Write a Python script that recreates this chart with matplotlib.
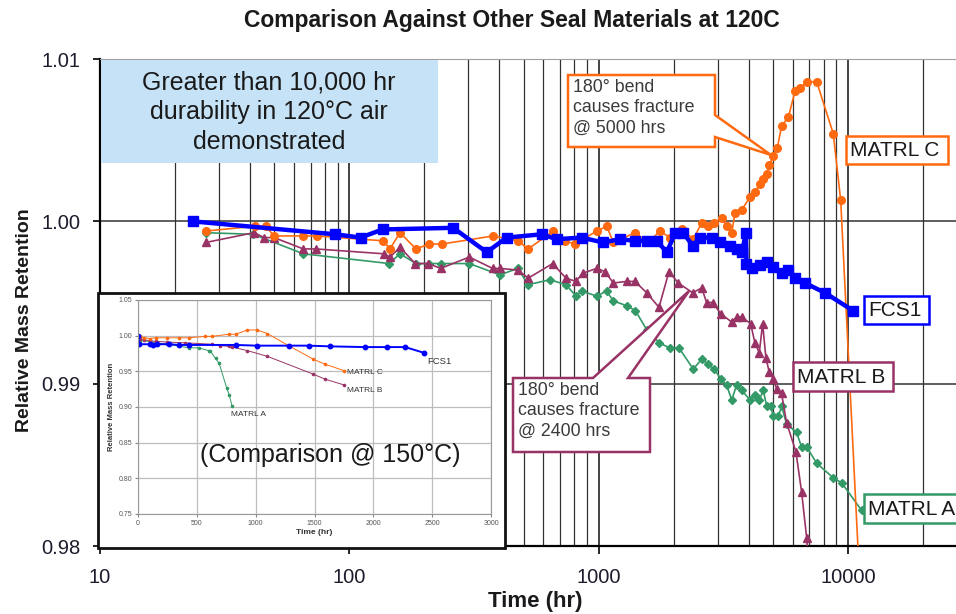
import matplotlib
matplotlib.use("Agg")
import matplotlib.pyplot as plt
from matplotlib.patches import Rectangle, Polygon
from matplotlib.ticker import NullFormatter, LogLocator
import numpy as np

plt.rcParams['font.family'] = ['Liberation Sans', 'DejaVu Sans']

# ---- main chart data (120C, log time) ----
fcs1_t = [23.5, 88, 111, 136, 261, 356, 428, 591, 679, 855, 1040, 1220, 1400, 1560,
          1710, 1880, 2030, 2180, 2390, 2550, 2850, 3070, 3360, 3590, 3760, 3900,
          3920, 4120, 4440, 4730, 5010, 5440, 5750, 6130, 6730, 8090, 10480]
fcs1_m = [1.0000, 0.9992, 0.9990, 0.9995, 0.9996, 0.9981, 0.9990, 0.9992, 0.9989,
          0.9990, 0.9987, 0.9989, 0.9988, 0.9988, 0.9988, 0.9981, 0.9993, 0.9993,
          0.9985, 0.9990, 0.9990, 0.9987, 0.9985, 0.9983, 0.9981, 0.9993, 0.9974,
          0.9971, 0.9973, 0.9975, 0.9972, 0.9968, 0.9970, 0.9965, 0.9962, 0.9956,
          0.9945]

matc_t = [26.6, 41.8, 46.2, 49.9, 65.4, 74.0, 136.9, 145.6, 159.7, 185.2, 209.4,
          234.8, 378, 474, 522, 658, 733, 804, 983, 1078, 1146, 1400, 1583, 1763,
          1934, 2155, 2398, 2592, 2754, 2904, 3117, 3265, 3420, 3525, 3750, 4049,
          4241, 4441, 4578, 4724, 4839, 5021, 5210, 5427, 5768, 6135, 6427, 6835,
          7496, 8740, 9358, 11820]
matc_m = [0.9994, 0.9997, 0.9997, 0.9991, 0.9991, 0.9991, 0.9988, 0.9983, 0.9993,
          0.9983, 0.9986, 0.9986, 0.9991, 0.9988, 0.9983, 0.9994, 0.9988, 0.9986,
          0.9994, 0.9997, 0.9987, 0.9993, 0.9987, 0.9994, 0.9990, 0.9995, 0.9989,
          0.9999, 0.9997, 0.9999, 1.0002, 0.9997, 0.9993, 1.0005, 1.0007, 1.0015,
          1.0018, 1.0023, 1.0026, 1.0029, 1.0035, 1.0040, 1.0045, 1.0059, 1.0064,
          1.0080, 1.0082, 1.0086, 1.0086, 1.0054, 1.0013, 0.9700]

matb_t = [26.6, 41.5, 45.5, 49.9, 65.4, 73.3, 137.8, 145.6, 159.7, 183.9, 207.5,
          232.6, 302.9, 375.9, 402, 474, 522, 654.6, 740, 811, 863, 983, 1061, 1146,
          1297, 1400, 1559, 1747, 1916, 2088, 2385, 2592, 2712, 2867, 3095, 3417,
          3578, 3747, 4072, 4240, 4412, 4550, 4690, 4839, 5021, 5176, 5420, 5677,
          6191, 6526, 6835, 6980]
matb_m = [0.9987, 0.9993, 0.9990, 0.9990, 0.9983, 0.9983, 0.9980, 0.9978, 0.9984,
          0.9974, 0.9974, 0.9971, 0.9978, 0.9971, 0.9971, 0.9970, 0.9965, 0.9974,
          0.9965, 0.9963, 0.9968, 0.9971, 0.9969, 0.9962, 0.9963, 0.9963, 0.9956,
          0.9947, 0.9969, 0.9962, 0.9956, 0.9959, 0.9950, 0.9950, 0.9943, 0.9938,
          0.9941, 0.9941, 0.9937, 0.9925, 0.9919, 0.9937, 0.9916, 0.9907, 0.9903,
          0.9897, 0.9894, 0.9876, 0.9858, 0.9833, 0.9805, 0.9785]

mata_t = [26.6, 41.2, 65.4, 144.7, 159.7, 185.2, 209.4, 232.6, 302.9, 402, 474, 522,
          638, 740, 811, 855, 983, 1076, 1146, 1297, 1405, 1563, 1755, 1934, 2102,
          2398, 2592, 2754, 2904, 3095, 3265, 3420, 3578, 3747, 4049, 4241, 4412,
          4578, 4724, 4900, 5021, 5258, 5427, 5677, 6226, 6521, 6835, 7496, 8740,
          9435, 11350]
mata_m = [0.9993, 0.9992, 0.9980, 0.9974, 0.9980, 0.9974, 0.9974, 0.9974, 0.9974,
          0.9967, 0.9971, 0.9961, 0.9964, 0.9961, 0.9954, 0.9957, 0.9954, 0.9957,
          0.9951, 0.9948, 0.9945, 0.9933, 0.9925, 0.9922, 0.9922, 0.9909, 0.9915,
          0.9912, 0.9909, 0.9903, 0.9899, 0.9890, 0.9899, 0.9896, 0.9890, 0.9893,
          0.9890, 0.9896, 0.9886, 0.9886, 0.9880, 0.9880, 0.9886, 0.9875, 0.9870,
          0.9861, 0.9861, 0.9851, 0.9842, 0.9839, 0.9822]

x_ticks = [10, 100, 1000, 10000]
x_labels = ['10', '100', '1000', '10000']
y_ticks = [0.98, 0.99, 1.00, 1.01]
y_labels = ['0.98', '0.99', '1.00', '1.01']

# ---- inset data (150C, linear time) ----
fcs1_150_t = [0, 10, 100, 130, 160, 260, 350, 430, 830, 1010, 1280, 1450, 1630, 1930,
              2115, 2270, 2430]
fcs1_150_m = [1.000, 0.988, 0.988, 0.987, 0.988, 0.988, 0.987, 0.987, 0.987, 0.986,
              0.986, 0.986, 0.985, 0.984, 0.984, 0.984, 0.976]
matc_150_t = [20, 50, 100, 150, 250, 350, 430, 570, 630, 770, 830, 930, 1010, 1100,
              1280, 1490, 1590, 1750]
matc_150_m = [0.999, 0.997, 0.996, 0.997, 0.997, 0.997, 0.997, 0.999, 0.999, 1.002,
              1.002, 1.008, 1.008, 1.003, 0.986, 0.967, 0.960, 0.951]
matb_150_t = [20, 50, 100, 150, 250, 400, 630, 700, 770, 800, 930, 1100, 1490, 1590,
              1750]
matb_150_m = [0.996, 0.994, 0.993, 0.992, 0.991, 0.990, 0.988, 0.986, 0.985, 0.984,
              0.979, 0.971, 0.946, 0.939, 0.931]
mata_150_t = [20, 100, 150, 250, 430, 515, 600, 615, 660, 690, 755, 775, 800]
mata_150_m = [0.993, 0.992, 0.990, 0.988, 0.983, 0.983, 0.979, 0.978, 0.968, 0.961,
              0.926, 0.917, 0.901]

W, H = 956, 614
def fx(px):
    return px / W
def fy(py):
    return 1 - py / H

c_fcs = '#0000ff'
c_c = '#ff6a10'
c_b = '#993366'
c_a = '#339966'
txt = '#1a1a1a'

fig = plt.figure(figsize=(W / 100, H / 100), dpi=100)
ax = fig.add_axes([fx(100), fy(546), 856 / W, 487 / H])

ax.set_xscale('log')
ax.set_xlim(10, 27150)
ax.set_ylim(0.98, 1.01)

# gridlines
ax.xaxis.set_minor_locator(LogLocator(base=10, subs=range(2, 10)))
ax.xaxis.set_minor_formatter(NullFormatter())
ax.grid(which='major', axis='x', color='#111111', lw=1.1)
ax.grid(which='minor', axis='x', color='#333333', lw=0.9)
ax.hlines(y_ticks[1:-1], 10, 27150, color='#333333', lw=1.1, zorder=0.5)
ax.set_axisbelow(True)

ax.plot(mata_t, mata_m, color=c_a, lw=1.2, marker='D', ms=4.2, zorder=3)
ax.plot(matb_t, matb_m, color=c_b, lw=1.2, marker='^', ms=6, zorder=3)
ax.plot(matc_t, matc_m, color=c_c, lw=1.2, marker='o', ms=5.5, zorder=3)
ax.plot(fcs1_t, fcs1_m, color=c_fcs, lw=3.2, marker='s', ms=7, zorder=4)

ax.set_xticks(x_ticks)
ax.set_xticklabels(x_labels)
ax.set_yticks(y_ticks)
ax.set_yticklabels(y_labels)
ax.tick_params(axis='x', which='major', length=6, width=1.2, pad=10,
               labelsize=14.5, labelcolor='#1c1c2c')
ax.tick_params(axis='x', which='minor', length=0)
ax.tick_params(axis='y', length=5, width=1.2, pad=9, labelsize=14.5,
               labelcolor='#1c1c2c')
ax.spines['left'].set_linewidth(1.6)
ax.spines['bottom'].set_linewidth(1.6)
ax.spines['top'].set_color('#a0a0a0')
ax.spines['right'].set_visible(False)

fig.text(fx(512), fy(20), 'Comparison Against Other Seal Materials at 120C',
         ha='center', va='center', fontsize=16.5, fontweight='bold', color=txt)
fig.text(fx(25), fy(320), 'Relative Mass Retention', rotation=90, ha='center',
         va='center', fontsize=14, fontweight='bold', color=txt)
fig.text(fx(535), fy(601), 'Time (hr)', ha='center', va='center', fontsize=16,
         fontweight='bold', color=txt)

# blue statement box
fig.add_artist(Rectangle((fx(101), fy(163)), 337 / W, 103 / H, transform=fig.transFigure,
                         fc='#c6e2f6', ec='none', zorder=2))
fig.text(fx(269), fy(112), 'Greater than 10,000 hr\ndurability in 120°C air\ndemonstrated',
         ha='center', va='center', fontsize=18, linespacing=1.3, color=txt, zorder=3)

# callouts
def callout(pts, ec):
    fig.add_artist(Polygon([(fx(x), fy(y)) for x, y in pts], closed=True,
                           transform=fig.transFigure, fc='white', ec=ec, lw=1.8,
                           zorder=2))

callout([(568, 75), (715, 75), (715, 115), (771, 155), (715, 137), (715, 147),
         (568, 147)], c_c)
fig.text(fx(573), fy(79), '180° bend\ncauses fracture\n@ 5000 hrs', ha='left', va='top',
         fontsize=12.8, linespacing=1.25, color='#3a3a3a', zorder=3)

callout([(513, 378), (593, 378), (689, 291), (628, 378), (650, 378), (650, 452),
         (513, 452)], c_b)
fig.text(fx(518), fy(382), '180° bend\ncauses fracture\n@ 2400 hrs', ha='left', va='top',
         fontsize=12.8, linespacing=1.25, color='#3a3a3a', zorder=3)

# series label boxes
def label_box(x0, y0, x1, y1, text, ec):
    fig.add_artist(Rectangle((fx(x0), fy(y1)), (x1 - x0) / W, (y1 - y0) / H,
                             transform=fig.transFigure, fc='white', ec=ec, lw=1.8,
                             zorder=2))
    fig.text(fx(x0 + 4), fy((y0 + y1) / 2 + 1), text, ha='left', va='center',
             fontsize=15, color=txt, zorder=3)

label_box(846, 136, 948, 164, 'MATRL C', c_c)
label_box(864, 296, 929, 324, 'FCS1', c_fcs)
label_box(793, 362, 893, 391, 'MATRL B', c_b)
label_box(864, 494, 975, 523, 'MATRL A', c_a)

# inset (150C comparison)
fig.add_artist(Rectangle((fx(98), fy(548)), 407 / W, 255 / H, transform=fig.transFigure,
                         fc='white', ec='#111111', lw=2, zorder=4))
ins = fig.add_axes([fx(138), fy(514), 353 / W, 214 / H], zorder=5)
ins.set_xlim(0, 3000)
ins.set_ylim(0.75, 1.05)
ins.set_xticks(np.arange(0, 3001, 500))
ins.set_yticks(np.arange(0.75, 1.051, 0.05))
ins.set_yticklabels(['%.2f' % v for v in np.arange(0.75, 1.051, 0.05)])
ins.grid(color='#bdbdbd', lw=0.9)
ins.set_axisbelow(True)
ins.tick_params(labelsize=5, labelcolor='#555555', length=2, color='#888888', pad=2)
for s in ins.spines.values():
    s.set_color('#999999')
    s.set_linewidth(0.8)
ins.plot(mata_150_t, mata_150_m, color=c_a, lw=0.7, marker='o', ms=1.6)
ins.plot(matb_150_t, matb_150_m, color=c_b, lw=0.7, marker='o', ms=1.6)
ins.plot(matc_150_t, matc_150_m, color=c_c, lw=0.7, marker='o', ms=1.6)
ins.plot(fcs1_150_t, fcs1_150_m, color=c_fcs, lw=1.4, marker='o', ms=3.2)
ins.set_xlabel('Time (hr)', fontsize=6, fontweight='bold', color='#333333', labelpad=2)
ins.set_ylabel('Relative Mass Retention', fontsize=5.5, fontweight='bold',
               color='#333333', labelpad=3)

fig.text(fx(427), fy(361), 'FCS1', fontsize=6.8, color='#333333', va='center', zorder=6)
fig.text(fx(347), fy(372), 'MATRL C', fontsize=6, color='#333333', va='center', zorder=6)
fig.text(fx(347), fy(391), 'MATRL B', fontsize=6, color='#333333', va='center', zorder=6)
fig.text(fx(231), fy(414), 'MATRL A', fontsize=6, color='#333333', va='center', zorder=6)
fig.text(fx(330), fy(455), '(Comparison @ 150°C)', ha='center', va='center',
         fontsize=18, color=txt, zorder=6)

fig.savefig('out.png', dpi=100)
